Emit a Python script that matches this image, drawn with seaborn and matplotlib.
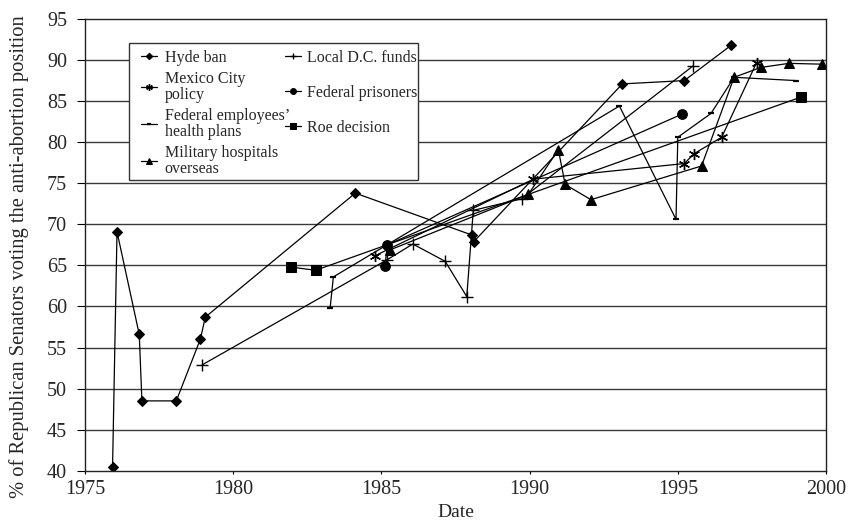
import matplotlib
matplotlib.use("Agg")
import matplotlib.pyplot as plt
import seaborn as sns
import pandas as pd
from matplotlib.patches import Rectangle

# ---- data (year, % of Republican senators voting anti-abortion) ----
hyde_x = [1975.93, 1976.08, 1976.83, 1976.92, 1978.08, 1978.89, 1979.06, 1984.12,
          1988.05, 1988.12, 1993.13, 1995.22, 1996.80]
hyde_y = [40.5, 69.1, 56.6, 48.5, 48.5, 56.0, 58.7, 73.8, 68.7, 67.9, 87.1, 87.5, 91.8]

mexico_x = [1984.80, 1990.13, 1995.22, 1995.55, 1996.48, 1997.66]
mexico_y = [66.2, 75.5, 77.4, 78.6, 80.6, 89.7]

fedemp_x = [1983.27, 1983.38, 1993.03, 1994.94, 1995.00, 1996.12, 1996.90, 1999.00]
fedemp_y = [59.8, 63.6, 84.4, 70.6, 80.6, 83.5, 87.9, 87.5]

military_x = [1985.30, 1989.96, 1990.97, 1991.20, 1992.07, 1995.80, 1996.90, 1997.80,
              1998.75, 1999.85]
military_y = [66.9, 73.65, 79.1, 74.85, 73.0, 77.1, 87.9, 89.1, 89.6, 89.5]

dc_x = [1978.96, 1985.20, 1986.06, 1987.15, 1987.88, 1988.10, 1989.73, 1995.52]
dc_y = [52.9, 65.7, 67.6, 65.5, 61.2, 71.7, 73.1, 89.3]

prisoners_x = [1985.12, 1985.20, 1995.13]
prisoners_y = [64.9, 67.5, 83.4]

roe_x = [1981.94, 1982.78, 1999.16]
roe_y = [64.8, 64.4, 85.5]

labels_col1 = ["Hyde ban", "Mexico City\npolicy", "Federal employees\u2019\nhealth plans",
               "Military hospitals\noverseas"]
labels_col2 = ["Local D.C. funds", "Federal prisoners", "Roe decision"]

x_ticks = [1975, 1980, 1985, 1990, 1995, 2000]
y_ticks = [40, 45, 50, 55, 60, 65, 70, 75, 80, 85, 90, 95]

sns.set_theme(style="white")
plt.rcParams["font.family"] = ["Liberation Serif", "DejaVu Serif"]

fig = plt.figure(figsize=(8.51, 5.20), dpi=100)
ax = fig.add_axes([85 / 851, 1 - 470.7 / 520, (826 - 85) / 851, (470.7 - 19) / 520])

series = [
    (hyde_x, hyde_y, labels_col1[0], dict(marker="D", markersize=5.5)),
    (mexico_x, mexico_y, labels_col1[1], dict(marker=(6, 2, 0), markersize=8, markeredgewidth=1.0)),
    (fedemp_x, fedemp_y, labels_col1[2], dict(marker="_", markersize=5, markeredgewidth=1.6)),
    (military_x, military_y, labels_col1[3], dict(marker="^", markersize=7)),
    (dc_x, dc_y, labels_col2[0], dict(marker="+", markersize=8, markeredgewidth=1.0)),
    (prisoners_x, prisoners_y, labels_col2[1], dict(marker="o", markersize=7)),
    (roe_x, roe_y, labels_col2[2], dict(marker="s", markersize=6.5)),
]

handles = []
for xs, ys, lab, mk in series:
    df = pd.DataFrame({"Date": xs, "val": ys})
    sns.lineplot(data=df, x="Date", y="val", ax=ax, sort=False, estimator=None,
                 color="black", linewidth=0.9, label=lab,
                 markerfacecolor="black", markeredgecolor="black", **mk)
    handles.append(ax.get_lines()[-1])
ax.get_legend().remove()

# grid & axes
for yv in y_ticks[1:-1]:
    ax.axhline(yv, color="#3a3a3a", linewidth=1.0, zorder=0)
ax.set_xlim(1975, 2000)
ax.set_ylim(40, 95)
ax.set_xticks(x_ticks)
ax.set_yticks(y_ticks)
ax.tick_params(axis="x", which="major", direction="out", length=2.5, width=0.8,
               labelsize=14.5, color="black", pad=4.5, bottom=True)
ax.tick_params(axis="y", which="major", direction="out", length=6, width=0.8,
               labelsize=14.5, color="black", pad=7, left=True)
for s in ax.spines.values():
    s.set_color("#222222")
    s.set_linewidth(1.0)
ax.set_xlabel("Date", fontsize=14, labelpad=3)
ax.set_ylabel("% of Republican Senators voting the anti-abortion position", fontsize=14.8)
ax.yaxis.set_label_coords(-0.076, 0.473)

# legend frame
fr = Rectangle((129 / 851, 1 - 180 / 520), (418 - 129) / 851, (180 - 43) / 520,
               transform=fig.transFigure, facecolor="white", edgecolor="#333333",
               linewidth=1.0, zorder=5)
fig.patches.append(fr)

leg1 = fig.legend(handles[:4], labels_col1, loc="upper left",
                  bbox_to_anchor=(131 / 851, 1 - 40 / 520), frameon=False,
                  fontsize=11.5, handlelength=1.0, handletextpad=0.5,
                  labelspacing=0.35, markerscale=0.6, borderpad=0.1)
for t in leg1.get_texts():
    t.set_linespacing(0.95)
leg2 = fig.legend(handles[4:], labels_col2, loc="upper left",
                  bbox_to_anchor=(275 / 851, 1 - 40 / 520), frameon=False,
                  fontsize=11.5, handlelength=1.0, handletextpad=0.4,
                  labelspacing=1.2, markerscale=0.6, borderpad=0.1)
leg1.set_zorder(6)
leg2.set_zorder(6)

fig.savefig("out.png", dpi=100)
